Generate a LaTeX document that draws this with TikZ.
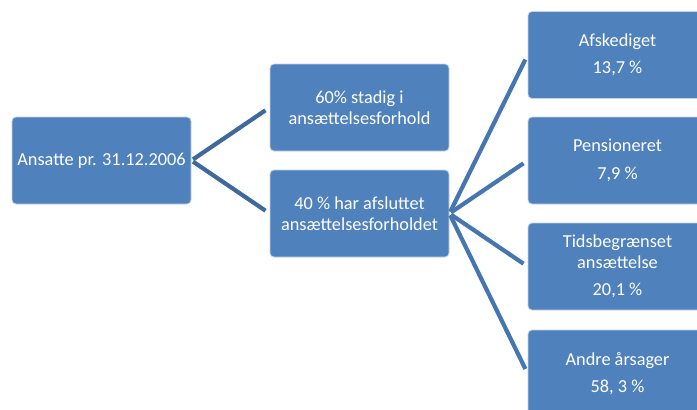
\documentclass[tikz,border=0pt]{standalone}
\usepackage{fontspec}
\setmainfont{Carlito}
\definecolor{boxblue}{HTML}{4F81BD}
\definecolor{lineblue}{HTML}{4676B0}
\definecolor{linedark}{HTML}{3F689C}
\tikzset{
  box/.style={rectangle, rounded corners=4pt, fill=boxblue, draw=white!65!boxblue, line width=0.8pt,
    minimum width=179pt, minimum height=87pt, inner sep=0pt, align=center, text=white,
    font=\fontsize{18.3}{20.5}\selectfont},
  conn/.style={draw=lineblue, line width=4.2pt, shorten <=2pt, shorten >=5pt},
  conndark/.style={conn, draw=linedark}
}
\begin{document}
\begin{tikzpicture}[x=1pt,y=-1pt]
\useasboundingbox (0,0) rectangle (697,410);
\clip (0,0) rectangle (697,410);
\fill[white] (0,0) rectangle (697,410);
\node[box] (root) at (101.5,160.5) {Ansatte pr. 31.12.2006};
\node[box] (stay) at (359.5,107.5) {60\% stadig i\\ansættelsesforhold};
\node[box] (left) at (359.5,213.5) {40 \% har afsluttet\\ansættelsesforholdet};
\node[box] (r1) at (617.5,55) {Afskediget\\[7pt]13,7 \%};
\node[box] (r2) at (617.5,160.5) {Pensioneret\\[7pt]7,9 \%};
\node[box] (r3) at (617.5,266.5) {Tidsbegrænset\\ansættelse\\[7pt]20,1 \%};
\node[box] (r4) at (617.5,373.5) {Andre årsager\\[7pt]58, 3 \%};
\draw[conndark] (root.east) -- (stay.west);
\draw[conndark] (root.east) -- (left.west);
\draw[conn] (left.east) -- (r1.west);
\draw[conn] (left.east) -- (r2.west);
\draw[conn] (left.east) -- (r3.west);
\draw[conn] (left.east) -- (r4.west);
\end{tikzpicture}
\end{document}
